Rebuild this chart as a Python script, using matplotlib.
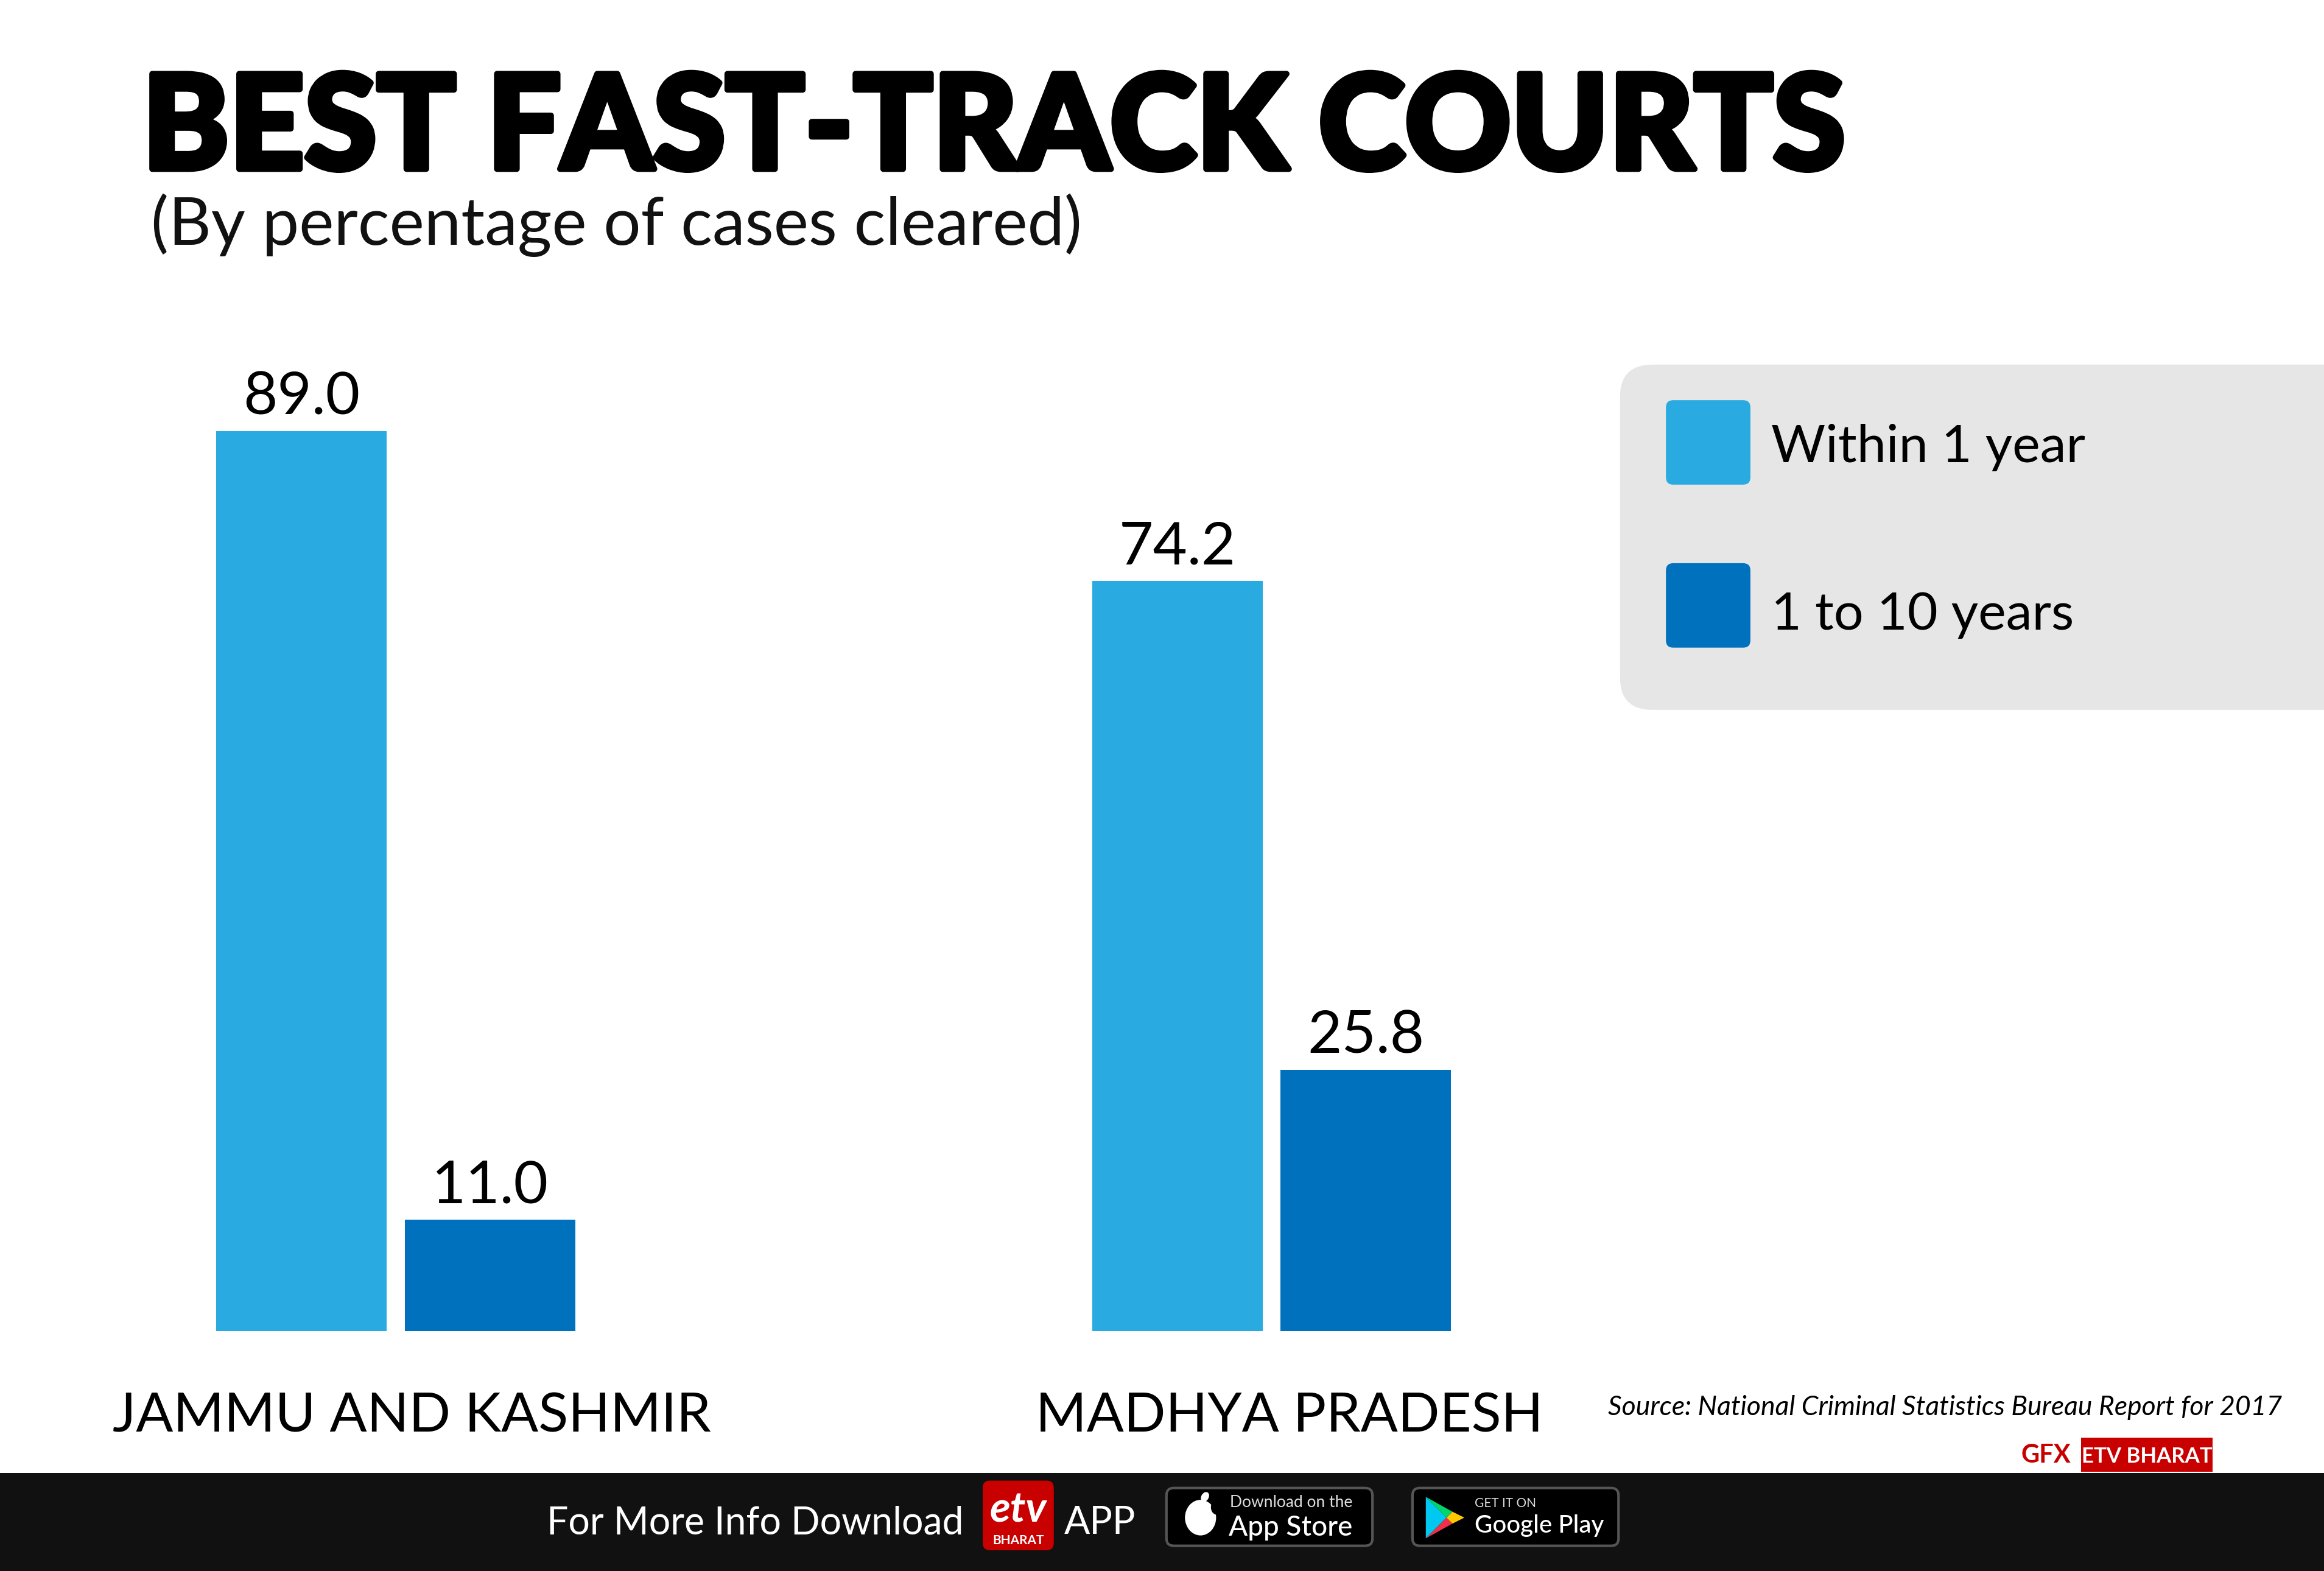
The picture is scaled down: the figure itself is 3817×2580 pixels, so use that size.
import numpy as np
from matplotlib import pyplot as plt
from matplotlib import patheffects
from matplotlib.patches import FancyBboxPatch, Polygon, Rectangle, Ellipse

# data
states = ["JAMMU AND KASHMIR", "MADHYA PRADESH"]
within_1_year = [89.0, 74.2]
one_to_10_years = [11.0, 25.8]
series_names = ["Within 1 year", "1 to 10 years"]

LIGHT = "#29abe2"
DARK = "#0071bc"
FONT = "Lato"

fig = plt.figure(figsize=(38.17, 25.80), dpi=100, facecolor="white")

# bars: one group unit is 591 px of the 1568 px wide layout
ax = fig.add_axes([0, (1060 - 898) / 1060, 1, 682 / 1060])
ax.set_xlim(-267 / 591, (1568 - 267) / 591)
ax.set_ylim(0, 100)
ax.axis("off")
x = np.arange(len(states))
w = 115 / 591
off = 63.5 / 591
b1 = ax.bar(x - off, within_1_year, w, color=LIGHT)
b2 = ax.bar(x + off, one_to_10_years, w, color=DARK)
for bars in (b1, b2):
    for b in bars:
        ax.annotate("%.1f" % b.get_height(), (b.get_x() + b.get_width() / 2, b.get_height()),
                    xytext=(0, 20), textcoords="offset points", ha="center", va="baseline",
                    fontsize=70, family=FONT, color="black")

# everything else in layout coordinates, y going down
ov = fig.add_axes([0, 0, 1, 1], zorder=3)
ov.set_xlim(0, 1568)
ov.set_ylim(1060, 0)
ov.axis("off")
ov.patch.set_alpha(0)

title = ov.text(96, 114, "BEST FAST-TRACK COURTS", fontsize=155, family=FONT, fontweight=900,
                color="black", va="baseline")
# the font is not as heavy as the original, thicken it
title.set_path_effects([patheffects.withStroke(linewidth=7, foreground="black")])
ov.text(102, 165, "(By percentage of cases cleared)", fontsize=78, family=FONT, color="#111111",
        va="baseline")

ov.text(278, 966, states[0], fontsize=65, family=FONT, ha="center", va="baseline", color="black")
ov.text(870, 966, states[1], fontsize=65, family=FONT, ha="center", va="baseline", color="black")

# legend panel runs off the right edge
ov.add_patch(FancyBboxPatch((1093, 246), 600, 233, boxstyle="round,pad=0,rounding_size=22",
                            fc="#e6e6e6", ec="none"))
for y0, col, name, base in [(270, LIGHT, series_names[0], 312), (380, DARK, series_names[1], 425)]:
    ov.add_patch(FancyBboxPatch((1124, y0), 57, 57, boxstyle="round,pad=0,rounding_size=5",
                                fc=col, ec="none"))
    ov.text(1195, base, name, fontsize=62, family=FONT, color="black", va="baseline")

ov.text(1085, 955, "Source: National Criminal Statistics Bureau Report for 2017", fontsize=32,
        family=FONT, style="italic", color="black", va="baseline")

# GFX tag
ov.text(1397, 987, "GFX", fontsize=30, family=FONT, fontweight="bold", color="#c80000", ha="right",
        va="baseline")
ov.add_patch(Rectangle((1404, 970), 89, 23, fc="#c80000", ec="none"))
ov.text(1448.5, 987, "ETV BHARAT", fontsize=25, family=FONT, fontweight="bold", color="white",
        ha="center", va="baseline")

# footer strip
ov.add_patch(Rectangle((0, 994), 1568, 66, fc="#111111", ec="none"))
ov.text(369, 1035, "For More Info Download", fontsize=45, family=FONT, color="white", va="baseline")
ov.text(718, 1035, "APP", fontsize=45, family=FONT, color="white", va="baseline")

ov.add_patch(FancyBboxPatch((663, 999), 48, 47, boxstyle="round,pad=0,rounding_size=5", fc="#c80000", ec="none"))
ov.text(687, 1027, "etv", fontsize=50, family=FONT, style="italic", fontweight="bold", color="white",
        ha="center", va="baseline")
ov.text(687, 1042, "BHARAT", fontsize=15, family=FONT, fontweight="bold", color="white", ha="center",
        va="baseline")

for bx in (787, 953):
    ov.add_patch(FancyBboxPatch((bx, 1004), 139, 39, boxstyle="round,pad=0,rounding_size=5",
                                fc="black", ec="#555555", lw=3))

# apple badge
ov.add_patch(Ellipse((810, 1024), 21, 24, fc="white", ec="none"))
ov.add_patch(Ellipse((821, 1017), 8, 10, fc="black", ec="none"))
ov.add_patch(Ellipse((813, 1010), 5, 7, angle=30, fc="white", ec="none"))
ov.text(830, 1017, "Download on the", fontsize=19, family=FONT, color="#dddddd", va="baseline")
ov.text(829, 1036, "App Store", fontsize=33, family=FONT, fontweight="medium", color="white", va="baseline")

# play badge
ov.add_patch(Polygon([(962, 1010), (962, 1038), (976, 1024)], fc="#00c8f0", ec="none"))
ov.add_patch(Polygon([(962, 1010), (980, 1020), (976, 1024)], fc="#00d46a", ec="none"))
ov.add_patch(Polygon([(962, 1038), (980, 1028), (976, 1024)], fc="#f0304a", ec="none"))
ov.add_patch(Polygon([(980, 1020), (988, 1024), (980, 1028), (976, 1024)], fc="#ffc800", ec="none"))
ov.text(995, 1017, "GET IT ON", fontsize=15, family=FONT, color="#dddddd", va="baseline")
ov.text(995, 1034, "Google Play", fontsize=29, family=FONT, fontweight="medium", color="white", va="baseline")

fig.savefig("out.png", dpi=100, facecolor="white")
